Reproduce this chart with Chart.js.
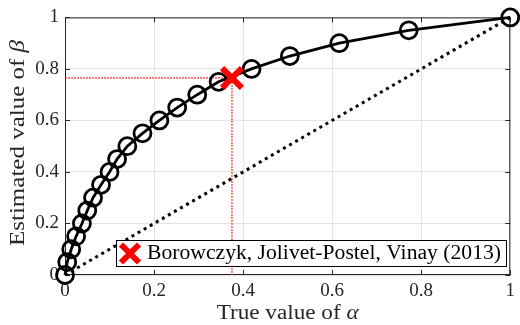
<!DOCTYPE html>
<html>
<head>
<meta charset="utf-8">
<script src="https://cdn.jsdelivr.net/npm/chart.js@4.4.1/dist/chart.umd.min.js"></script>
<style>
  html, body { margin: 0; padding: 0; background: #fff; }
  #wrap { width: 520px; height: 325px; }
</style>
</head>
<body>
<div id="wrap"><canvas id="betaChart" width="520" height="325"></canvas></div>
<script>
// estimated beta against true alpha
const trueAlpha = [0, 0.005, 0.014, 0.025, 0.038, 0.05, 0.063, 0.081, 0.1, 0.117, 0.14,
                   0.174, 0.212, 0.252, 0.297, 0.345, 0.419, 0.505, 0.616, 0.772, 1];
const estBeta = [0, 0.05, 0.1, 0.15, 0.2, 0.25, 0.3, 0.35, 0.4, 0.45, 0.5,
                 0.55, 0.6, 0.65, 0.7, 0.75, 0.8, 0.85, 0.9, 0.95, 1];

// identity line
const diagX = [0, 1];
const diagY = [0, 1];

// reference point and its guide lines
const refAlpha = [0.375];
const refBeta = [0.765];
const guideX = [0, 0.375, 0.375];
const guideY = [0.765, 0.765, 0];
const refLabel = 'Borowczyk, Jolivet-Postel, Vinay (2013)';

const xTicks = [0, 0.2, 0.4, 0.6, 0.8, 1];
const yTicks = [0, 0.2, 0.4, 0.6, 0.8, 1];
const xTickLabels = ['0', '0.2', '0.4', '0.6', '0.8', '1'];
const yTickLabels = ['0', '0.2', '0.4', '0.6', '0.8', '1'];

const SERIF = '"Liberation Serif", "Times New Roman", serif';
const AXIS = '#262626';

function pts(xs, ys) {
    return xs.map((x, i) => ({ x: x, y: ys[i] }));
}

// draws text pieces (normal / italic) stretched to a given width, centred at 0,0
function drawParts(ctx, parts, size, targetW) {
    let total = 0;
    parts.forEach(p => {
        ctx.font = (p.italic ? 'italic ' : '') + size + 'px ' + SERIF;
        p.w = ctx.measureText(p.t).width;
        total += p.w;
    });
    ctx.save();
    ctx.scale(targetW / total, 1);
    let x = -total / 2;
    ctx.textAlign = 'left';
    ctx.textBaseline = 'middle';
    parts.forEach(p => {
        ctx.font = (p.italic ? 'italic ' : '') + size + 'px ' + SERIF;
        ctx.fillText(p.t, x, 0);
        x += p.w;
    });
    ctx.restore();
}

const matlabLook = {
    id: 'matlabLook',
    beforeDatasetsDraw(chart) {
        const { ctx, chartArea: a, scales } = chart;
        ctx.save();
        ctx.strokeStyle = AXIS;
        ctx.lineWidth = 1;
        ctx.strokeRect(a.left + 0.5, a.top + 0.5, a.right - a.left - 1, a.bottom - a.top - 1);
        ctx.beginPath();
        xTicks.forEach(v => {
            const px = Math.round(scales.x.getPixelForValue(v)) + 0.5;
            ctx.moveTo(px, a.bottom); ctx.lineTo(px, a.bottom - 5);
            ctx.moveTo(px, a.top); ctx.lineTo(px, a.top + 5);
        });
        yTicks.forEach(v => {
            const py = Math.round(scales.y.getPixelForValue(v)) + 0.5;
            ctx.moveTo(a.left, py); ctx.lineTo(a.left + 5, py);
            ctx.moveTo(a.right, py); ctx.lineTo(a.right - 5, py);
        });
        ctx.stroke();
        ctx.restore();
    },
    afterDatasetsDraw(chart) {
        const { ctx, chartArea: a } = chart;
        ctx.save();
        // legend box inside the axes
        const bx = a.left + 51, by = a.bottom - 35, bw = 391, bh = 27;
        ctx.fillStyle = '#fff';
        ctx.fillRect(bx, by, bw, bh);
        ctx.strokeStyle = '#000';
        ctx.lineWidth = 1;
        ctx.strokeRect(bx + 0.5, by + 0.5, bw - 1, bh - 1);
        // cross marker
        const cx = bx + 14, cy = by + bh / 2, r = 9;
        ctx.strokeStyle = '#ff0000';
        ctx.lineWidth = 6;
        ctx.beginPath();
        ctx.moveTo(cx - r, cy - r); ctx.lineTo(cx + r, cy + r);
        ctx.moveTo(cx - r, cy + r); ctx.lineTo(cx + r, cy - r);
        ctx.stroke();
        ctx.fillStyle = '#000';
        ctx.translate(bx + 31 + 177, cy);
        drawParts(ctx, [{ t: refLabel }], 20, 354);
        ctx.restore();

        // axis titles
        ctx.save();
        ctx.fillStyle = AXIS;
        ctx.translate((a.left + a.right) / 2, 314);
        drawParts(ctx, [{ t: 'True value of ' }, { t: 'α', italic: true }], 20, 142);
        ctx.restore();

        ctx.save();
        ctx.fillStyle = AXIS;
        ctx.translate(19, 143);
        ctx.rotate(-Math.PI / 2);
        drawParts(ctx, [{ t: 'Estimated value of ' }, { t: 'β', italic: true }], 20, 206);
        ctx.restore();
    }
};

const ctx = document.getElementById('betaChart').getContext('2d');
new Chart(ctx, {
    type: 'line',
    data: {
        datasets: [
            {
                data: pts(refAlpha, refBeta),
                showLine: false,
                pointStyle: 'crossRot',
                pointRadius: 14,
                pointBorderWidth: 6,
                pointBorderColor: '#ff0000',
                borderColor: '#ff0000',
                clip: false,
                order: 1
            },
            {
                data: pts(trueAlpha, estBeta),
                borderColor: '#000',
                borderWidth: 2.8,
                pointRadius: 8.5,
                pointBorderWidth: 2.8,
                pointBorderColor: '#000',
                pointBackgroundColor: 'rgba(0,0,0,0)',
                tension: 0,
                clip: false,
                order: 2
            },
            {
                data: pts(diagX, diagY),
                borderColor: '#000',
                borderWidth: 3,
                borderDash: [3, 4],
                pointRadius: 0,
                clip: false,
                order: 3
            },
            {
                data: pts(guideX, guideY),
                borderColor: '#ff0000',
                borderWidth: 1,
                borderDash: [2, 1],
                pointRadius: 0,
                clip: false,
                order: 4
            }
        ]
    },
    options: {
        responsive: false,
        animation: false,
        events: [],
        layout: { autoPadding: false, padding: { top: 16, right: 6, left: 0, bottom: 0 } },
        plugins: { legend: { display: false }, tooltip: { enabled: false } },
        scales: {
            x: {
                type: 'linear',
                min: 0, max: 1,
                afterFit: s => { s.height = 50; },
                afterBuildTicks: s => { s.ticks = xTicks.map(v => ({ value: v })); },
                ticks: {
                    padding: 5,
                    color: AXIS,
                    maxRotation: 0,
                    font: { family: SERIF, size: 19 },
                    callback: v => xTickLabels[xTicks.indexOf(v)]
                },
                grid: { color: '#e3e3e3', drawTicks: false },
                border: { display: false }
            },
            y: {
                type: 'linear',
                min: 0, max: 1,
                afterFit: s => { s.width = 65; },
                afterBuildTicks: s => { s.ticks = yTicks.map(v => ({ value: v })); },
                ticks: {
                    padding: 6,
                    color: AXIS,
                    font: { family: SERIF, size: 19 },
                    callback: v => yTickLabels[yTicks.indexOf(v)]
                },
                grid: { color: '#e3e3e3', drawTicks: false },
                border: { display: false }
            }
        }
    },
    plugins: [matlabLook]
});
</script>
</body>
</html>
